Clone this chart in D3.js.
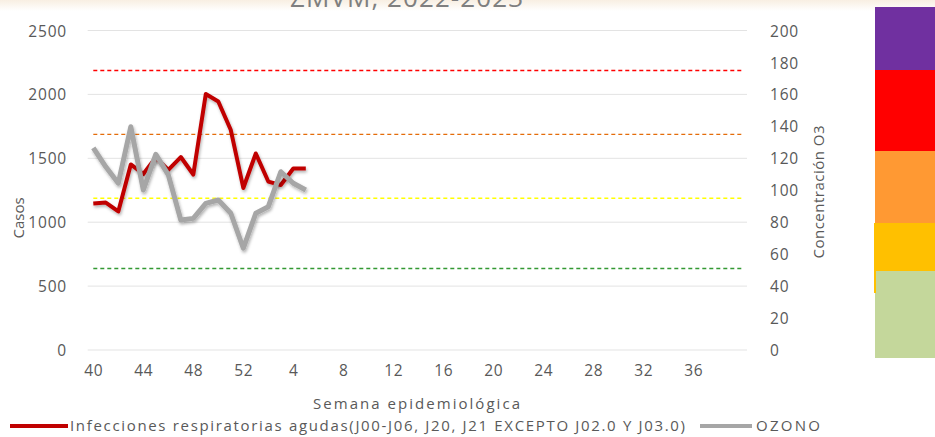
<!DOCTYPE html>
<html>
<head>
<meta charset="utf-8">
<script src="https://cdn.jsdelivr.net/npm/d3@7"></script>
<style>
  body { margin: 0; background: #fff; }
  text { font-family: "Open Sans", "Noto Sans", sans-serif; fill: #595959; }
</style>
</head>
<body>
<div id="chart"></div>
<script>
// weeks 40..52 of 2022 then 1..40 of 2023
var weeks = d3.range(40, 53).concat(d3.range(1, 41));
var tickIdx = d3.range(0, 49, 4);

// Infecciones respiratorias agudas (casos), weeks 40..5
var casos = [1146, 1154, 1084, 1452, 1377, 1506, 1409, 1510, 1373, 2003,
  1945, 1721, 1268, 1538, 1318, 1291, 1420, 1420];
// OZONO concentration, weeks 40..5
var ozono = [126.6, 114.7, 104.4, 139.8, 100.2, 122.5, 109.6, 81.4, 82.4, 91.8,
  93.9, 85.6, 63.7, 85.6, 89.7, 111.6, 104.4, 100.2];

// O3 thresholds
var limites = [175, 135, 95, 51];
var limiteColors = ["#FF0000", "#E46C0A", "#FFFF00", "#339933"];

var leftTicks = [0, 500, 1000, 1500, 2000, 2500];
var rightTicks = d3.range(0, 201, 20);

// index bar colors (bottom to top)
var niveles = ["buena", "aceptable", "mala", "muy mala", "extremadamente mala"];
var nivelColors = ["#C4D79B", "#FFC000", "#FF9933", "#FF0000", "#7030A0"];

var svgWidth = 935, svgHeight = 437;

var svg = d3.select("#chart").append("svg")
  .attr("width", svgWidth)
  .attr("height", svgHeight);

var defs = svg.append("defs");
var f = defs.append("filter").attr("id", "sh")
  .attr("x", "-5%").attr("y", "-10%").attr("width", "115%").attr("height", "130%");
f.append("feDropShadow").attr("dx", 1).attr("dy", 2).attr("stdDeviation", 1.6)
  .attr("flood-color", "#000").attr("flood-opacity", 0.3);

// faint beige band at top (from the slide background)
var g0 = defs.append("linearGradient").attr("id", "top").attr("x1", 0).attr("x2", 0).attr("y1", 0).attr("y2", 1);
g0.append("stop").attr("offset", 0).attr("stop-color", "#F8EFE2");
g0.append("stop").attr("offset", 1).attr("stop-color", "#FFFFFF");
svg.append("rect").attr("x", 0).attr("y", 0).attr("width", svgWidth).attr("height", 11)
  .attr("fill", "url(#top)");

// title, cut off at top like the reference
svg.append("text")
  .attr("x", 290).attr("y", 7)
  .attr("textLength", 233)
  .style("font-size", "26px")
  .style("fill", "#7f7f7f")
  .text("ZMVM, 2022-2023");

var x = d3.scalePoint()
  .domain(d3.range(weeks.length))
  .range([93.3, 743.3]);
var y = d3.scaleLinear().domain([0, 2500]).range([350, 30.5]);
var y2 = d3.scaleLinear().domain([0, 200]).range([350, 30.5]);

// gridlines
svg.append("g").selectAll("line")
  .data(leftTicks).enter().append("line")
  .attr("x1", 87.7).attr("x2", 747)
  .attr("y1", d => y(d)).attr("y2", d => y(d))
  .attr("stroke", "#E3E3E3").attr("stroke-width", 1);

// left axis
var leftAxis = svg.append("g")
  .attr("transform", "translate(72,0)")
  .call(d3.axisLeft(y).tickValues(leftTicks).tickFormat(d3.format("d")).tickSize(0).tickPadding(5));
leftAxis.select(".domain").remove();
leftAxis.selectAll("text").style("font-size", "15.5px").style("letter-spacing", "0.8px")
  .attr("fill", "#595959").attr("dy", "0.36em");

// right axis
var rightAxis = svg.append("g")
  .attr("transform", "translate(766,0)")
  .call(d3.axisRight(y2).tickValues(rightTicks).tickSize(0).tickPadding(4));
rightAxis.select(".domain").remove();
rightAxis.selectAll("text").style("font-size", "15.5px").style("letter-spacing", "0.8px")
  .attr("fill", "#595959").attr("dy", "0.36em");

// bottom axis
var bottomAxis = svg.append("g")
  .attr("transform", "translate(0,358)")
  .call(d3.axisBottom(x).tickValues(tickIdx).tickFormat(i => weeks[i]).tickSize(0).tickPadding(6));
bottomAxis.select(".domain").remove();
bottomAxis.selectAll("text").style("font-size", "15.5px").style("letter-spacing", "0.8px")
  .attr("fill", "#595959").attr("dy", "0.75em");

// axis titles
svg.append("text")
  .attr("transform", "translate(24,218) rotate(-90)")
  .attr("text-anchor", "middle")
  .style("font-size", "15px")
  .text("Casos");

svg.append("text")
  .attr("transform", "translate(824,192) rotate(-90)")
  .attr("text-anchor", "middle")
  .attr("textLength", 133)
  .style("font-size", "15px")
  .text("Concentración O3");

svg.append("text")
  .attr("x", 313).attr("y", 409)
  .attr("textLength", 207)
  .style("font-size", "15px")
  .text("Semana epidemiológica");

// threshold lines
svg.append("g").selectAll("line")
  .data(limites).enter().append("line")
  .attr("x1", x(0)).attr("x2", x(weeks.length - 1))
  .attr("y1", d => y2(d)).attr("y2", d => y2(d))
  .attr("stroke", (d, i) => limiteColors[i])
  .attr("stroke-width", 1.4)
  .attr("stroke-dasharray", "4,3");

// series
var lineCasos = d3.line().x((d, i) => x(i)).y(d => y(d));
var lineOzono = d3.line().x((d, i) => x(i)).y(d => y2(d));

svg.append("path")
  .datum(casos)
  .attr("d", lineCasos)
  .attr("fill", "none")
  .attr("stroke", "#C00000")
  .attr("stroke-width", 4)
  .attr("stroke-linejoin", "round")
  .attr("filter", "url(#sh)");

svg.append("path")
  .datum(ozono)
  .attr("d", lineOzono)
  .attr("fill", "none")
  .attr("stroke", "#A6A6A6")
  .attr("stroke-width", 5)
  .attr("stroke-linejoin", "round")
  .attr("filter", "url(#sh)");

// legend
svg.append("line").attr("x1", 10).attr("x2", 68).attr("y1", 426).attr("y2", 426)
  .attr("stroke", "#C00000").attr("stroke-width", 4);
svg.append("text").attr("x", 70).attr("y", 431)
  .attr("textLength", 615)
  .style("font-size", "15px")
  .text("Infecciones respiratorias agudas(J00-J06, J20, J21 EXCEPTO J02.0 Y J03.0)");
svg.append("line").attr("x1", 700).attr("x2", 752).attr("y1", 426).attr("y2", 426)
  .attr("stroke", "#A6A6A6").attr("stroke-width", 4);
svg.append("text").attr("x", 756).attr("y", 431)
  .attr("textLength", 64)
  .style("font-size", "15px")
  .text("OZONO");

// color index bar on the right
var yb = d3.scaleLinear().domain([0, 1, 2, 3, 4, 5]).range([358, 271, 223, 151, 70, 7]);
svg.append("g").selectAll("rect")
  .data(niveles).enter().append("rect")
  .attr("x", 875).attr("width", 60)
  .attr("y", (d, i) => yb(i + 1))
  .attr("height", (d, i) => yb(i) - yb(i + 1))
  .attr("fill", (d, i) => nivelColors[i]);
svg.append("rect").attr("x", 874).attr("width", 2)
  .attr("y", yb(2)).attr("height", 293 - yb(2))
  .attr("fill", nivelColors[1]);
</script>
</body>
</html>
